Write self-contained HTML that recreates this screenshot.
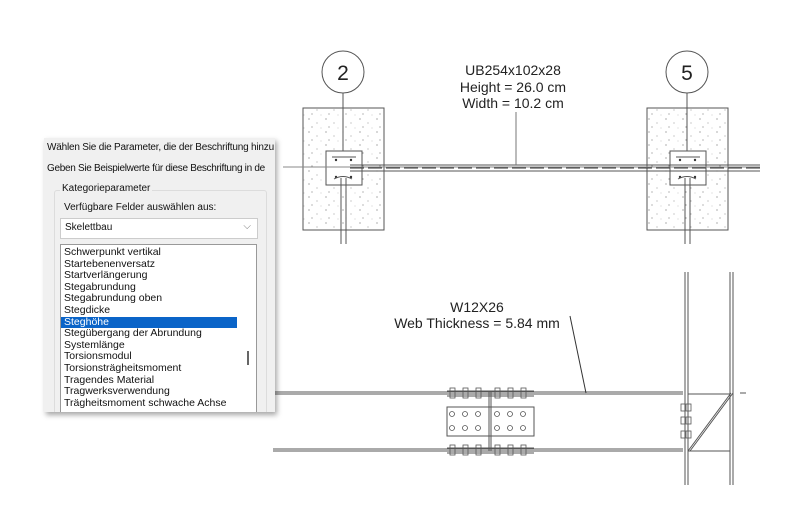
<!DOCTYPE html>
<html><head><meta charset="utf-8"><style>
body{margin:0;width:800px;height:508px;background:#fff;overflow:hidden;position:relative;font-family:"Liberation Sans",sans-serif}
svg{position:absolute;left:0;top:0}
.dlg{position:absolute;left:44px;top:138px;width:231px;height:274px;background:#f0f0f0;box-shadow:2px 3px 5px rgba(0,0,0,.35);font-size:10px;color:#111;overflow:hidden}
.t{position:absolute;white-space:nowrap}
.grp{position:absolute;left:10px;top:52px;width:211px;height:240px;border:1px solid #dcdcdc;border-radius:3px}
.combo{position:absolute;left:16px;top:80px;width:196px;height:19px;background:#fff;border:1px solid #ccc}
.list{position:absolute;left:16px;top:106px;width:195px;height:170px;background:#fff;border:1px solid #999}
.list div{height:11.6px;line-height:11.6px;padding-left:3px;font-size:10.5px}
.sel{background:#0a64c8;color:#fff;width:173px}
</style></head><body>
<svg width="800" height="508" viewBox="0 0 800 508">
<defs>
<pattern id="dots" width="17" height="13" patternUnits="userSpaceOnUse">
<circle cx="3" cy="2" r="0.6" fill="#777"/><circle cx="11" cy="6" r="0.5" fill="#777"/><circle cx="6" cy="10" r="0.6" fill="#888"/><circle cx="15" cy="11" r="0.4" fill="#888"/>
</pattern>
</defs>
<g stroke="#555" fill="none" stroke-width="1">
<rect x="303" y="108" width="81" height="122" fill="url(#dots)"/>
<rect x="647" y="108" width="81" height="122" fill="url(#dots)"/>
<circle cx="343" cy="72" r="21" fill="#fff"/>
<circle cx="687" cy="72" r="21" fill="#fff"/>
<line x1="343" y1="93" x2="343" y2="160"/>
<line x1="687" y1="93" x2="687" y2="160"/>
<rect x="326" y="151" width="36" height="34" fill="#fff"/>
<rect x="670" y="151" width="36" height="34" fill="#fff"/>
<line x1="332" y1="157" x2="356" y2="157"/><line x1="676" y1="157" x2="700" y2="157"/>
<g fill="#333" stroke="none"><circle cx="336" cy="160" r="1.2"/><circle cx="351" cy="160" r="1.2"/><circle cx="680" cy="160" r="1.2"/><circle cx="695" cy="160" r="1.2"/>
<circle cx="336" cy="177" r="1.2"/><circle cx="351" cy="177" r="1.2"/><circle cx="680" cy="177" r="1.2"/><circle cx="695" cy="177" r="1.2"/></g>
<path d="M334 179 Q343 174 352 179 M678 179 Q687 174 696 179"/>
<line x1="283" y1="167" x2="760" y2="167" stroke="#888"/>
<line x1="350" y1="165" x2="760" y2="165"/>
<line x1="350" y1="171" x2="760" y2="171"/>
<line x1="350" y1="168" x2="760" y2="168" stroke-dasharray="14,4" stroke="#333"/>
<line x1="341" y1="178" x2="341" y2="244"/><line x1="346" y1="178" x2="346" y2="244"/>
<line x1="685" y1="178" x2="685" y2="244"/><line x1="690" y1="178" x2="690" y2="244"/>
<line x1="516" y1="112" x2="516" y2="165" stroke="#777"/>
<line x1="273" y1="392" x2="683" y2="392"/><line x1="273" y1="394" x2="683" y2="394"/>
<line x1="273" y1="449" x2="683" y2="449"/><line x1="273" y1="451" x2="683" y2="451"/>
<line x1="685" y1="272" x2="685" y2="485"/><line x1="688" y1="272" x2="688" y2="485"/>
<line x1="730" y1="272" x2="730" y2="485"/><line x1="733" y1="272" x2="733" y2="485"/>
<line x1="688" y1="394" x2="730" y2="394"/><line x1="688" y1="451" x2="730" y2="451"/>
<line x1="688" y1="451" x2="731" y2="393"/><line x1="690" y1="451" x2="733" y2="393"/>
<line x1="740" y1="393" x2="746" y2="393"/>
<line x1="570" y1="316" x2="586" y2="393" stroke="#333"/>
<rect x="447" y="407" width="87" height="29"/>
<line x1="489" y1="392" x2="489" y2="451"/><line x1="491" y1="392" x2="491" y2="451"/>
<line x1="447" y1="391" x2="534" y2="391"/><line x1="447" y1="396" x2="534" y2="396"/>
<line x1="447" y1="448" x2="534" y2="448"/><line x1="447" y1="453" x2="534" y2="453"/>
<g stroke-width="0.8">
<circle cx="452" cy="414" r="2.5"/><circle cx="465" cy="414" r="2.5"/><circle cx="478" cy="414" r="2.5"/><circle cx="497" cy="414" r="2.5"/><circle cx="510" cy="414" r="2.5"/><circle cx="523" cy="414" r="2.5"/>
<circle cx="452" cy="428" r="2.5"/><circle cx="465" cy="428" r="2.5"/><circle cx="478" cy="428" r="2.5"/><circle cx="497" cy="428" r="2.5"/><circle cx="510" cy="428" r="2.5"/><circle cx="523" cy="428" r="2.5"/>
<rect x="450" y="388" width="5" height="10"/><rect x="463" y="388" width="5" height="10"/><rect x="476" y="388" width="5" height="10"/><rect x="495" y="388" width="5" height="10"/><rect x="508" y="388" width="5" height="10"/><rect x="521" y="388" width="5" height="10"/>
<rect x="450" y="445" width="5" height="10"/><rect x="463" y="445" width="5" height="10"/><rect x="476" y="445" width="5" height="10"/><rect x="495" y="445" width="5" height="10"/><rect x="508" y="445" width="5" height="10"/><rect x="521" y="445" width="5" height="10"/>
<rect x="681" y="404" width="4" height="7"/><rect x="686" y="404" width="5" height="7"/>
<rect x="681" y="417" width="4" height="7"/><rect x="686" y="417" width="5" height="7"/>
<rect x="681" y="431" width="4" height="7"/><rect x="686" y="431" width="5" height="7"/>
</g>
</g>
<g fill="#222" font-family="Liberation Sans, sans-serif">
<text x="343" y="80" font-size="21" text-anchor="middle">2</text>
<text x="687" y="80" font-size="21" text-anchor="middle">5</text>
<text x="513" y="75" font-size="14" text-anchor="middle">UB254x102x28</text>
<text x="513" y="92" font-size="14" text-anchor="middle">Height = 26.0 cm</text>
<text x="513" y="108" font-size="14" text-anchor="middle">Width = 10.2 cm</text>
<text x="477" y="312" font-size="14" text-anchor="middle">W12X26</text>
<text x="477" y="328" font-size="14" text-anchor="middle">Web Thickness = 5.84 mm</text>
</g>
</svg>
<div class="dlg">
<div class="t" style="left:3px;top:4px;letter-spacing:-0.2px">Wählen Sie die Parameter, die der Beschriftung hinzu</div>
<div class="t" style="left:3px;top:25px;letter-spacing:-0.3px">Geben Sie Beispielwerte für diese Beschriftung in de</div>
<div class="grp"></div>
<div class="t" style="left:16px;top:45px;background:#f0f0f0;padding:0 2px">Kategorieparameter</div>
<div class="t" style="left:20px;top:64px">Verfügbare Felder auswählen aus:</div>
<div class="combo"><span class="t" style="left:4px;top:3px">Skelettbau</span><span class="t" style="right:6px;top:2px;color:#777">⌵</span></div>
<div class="list" style="padding-top:2px;height:168px">
<div>Schwerpunkt vertikal</div><div>Startebenenversatz</div><div>Startverlängerung</div><div>Stegabrundung</div><div>Stegabrundung oben</div><div>Stegdicke</div><div class="sel">Steghöhe</div><div>Stegübergang der Abrundung</div><div>Systemlänge</div><div>Torsionsmodul</div><div>Torsionsträgheitsmoment</div><div>Tragendes Material</div><div>Tragwerksverwendung</div><div>Trägheitsmoment schwache Achse</div>
<span style="position:absolute;left:186px;top:106px;width:2px;height:14px;background:#666"></span>
</div>
</div>
</body></html>
